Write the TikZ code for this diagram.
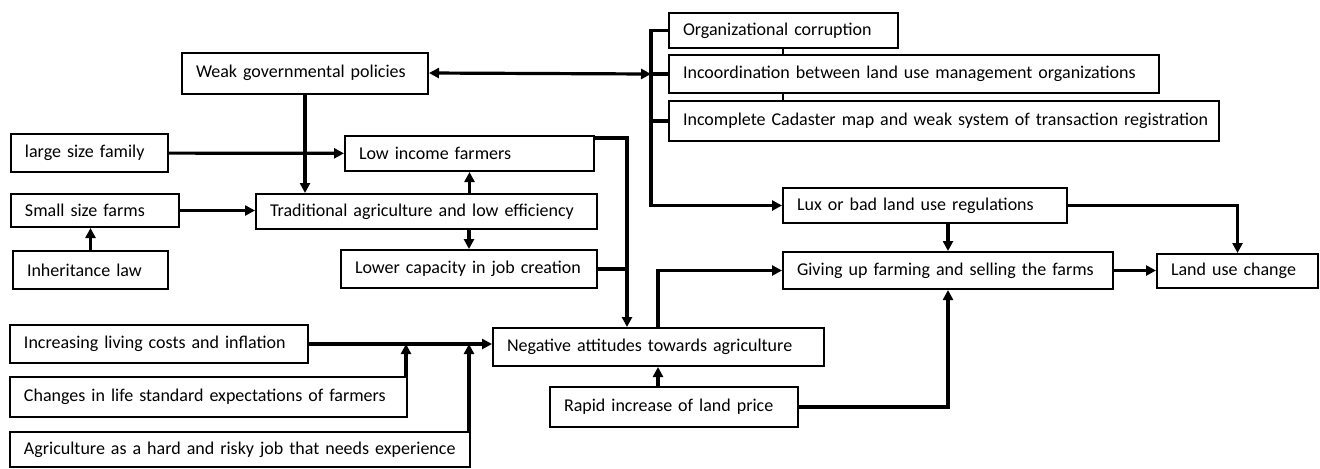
\documentclass[tikz,border=0pt]{standalone}
\usepackage{fontspec}
\setmainfont{Carlito}
\usetikzlibrary{arrows.meta,positioning,calc}

\begin{document}
\begin{tikzpicture}[x=0.5pt, y=-0.5pt,
    cbox/.style={rectangle, draw, line width=1pt, anchor=west, align=left,
                 inner xsep=7pt, inner ysep=0pt, minimum height=19pt,
                 font=\fontsize{9}{11}\selectfont},
    link/.style={line width=1.6pt},
    arr/.style={-{Triangle[length=5pt,width=5pt]}, line width=1.6pt},
    darr/.style={{Triangle[length=5pt,width=5pt]}-{Triangle[length=5pt,width=5pt]}, line width=1.6pt}
  ]
  \useasboundingbox (0,0) rectangle (1320,468);

  % causes on the left
  \node[cbox, text width=109pt, minimum height=20.5pt] (wgp) at (181,73) {Weak governmental policies};
  \node[cbox, text width=64.5pt] (lsf) at (10,153) {large size family};
  \node[cbox, text width=110.5pt, minimum height=17.5pt] (lif) at (344,153.5) {Low income farmers};
  \node[cbox, text width=70pt, minimum height=16.5pt] (ssf) at (10,210.5) {Small size farms};
  \node[cbox, text width=156.5pt, minimum height=17.5pt] (tra) at (255,211.5) {Traditional agriculture and low efficiency};
  \node[cbox, text width=63.5pt] (inh) at (12,270) {Inheritance law};
  \node[cbox, text width=114pt] (lcj) at (340,269) {Lower capacity in job creation};

  % organizational causes
  \node[cbox, text width=100.5pt, minimum height=17.5pt] (org) at (668,30.5) {Organizational corruption};
  \node[cbox, text width=231pt] (inc) at (668,74) {Incoordination between land use management organizations};
  \node[cbox, text width=267pt, inner xsep=4pt, minimum height=20pt] (cad) at (668,121) {\hspace*{3pt}Incomplete Cadaster map and weak system of transaction registration};
  \node[cbox, text width=128pt, minimum height=17.5pt] (lux) at (782,205.5) {Lux or bad land use regulations};
  \node[cbox, text width=151pt, minimum height=18.5pt] (giv) at (782,270.5) {Giving up farming and selling the farms};
  \node[cbox, text width=66.5pt, minimum height=17pt] (luc) at (1156,271) {Land use change};

  % lower part
  \node[cbox, text width=151.5pt] (neg) at (492,347) {Negative attitudes towards agriculture};
  \node[cbox, text width=135pt] (ilc) at (9,344) {Increasing living costs and inflation};
  \node[cbox, text width=184.5pt, minimum height=20pt] (chg) at (9,397) {Changes in life standard expectations of farmers};
  \node[cbox, text width=216pt, minimum height=17.5pt] (agr) at (9,449.5) {Agriculture as a hard and risky job that needs experience};
  \node[cbox, text width=110pt, minimum height=20pt] (rap) at (549,407) {Rapid increase of land price};

  \coordinate (bus) at (651,74);
  \coordinate (tk) at (783,0);
  \coordinate (jn) at (627,0);
  \coordinate (up) at (658,0);

  % connectors
  \draw[darr] (wgp.east) -- (bus);
  \draw[arr] (org.west) -- (org.west -| bus) |- (lux.west);
  \draw[link] (inc.west) -- (bus);
  \draw[link] (cad.west) -- (cad.west -| bus);
  \draw[line width=1pt] (org.south -| tk) -- (inc.north -| tk);
  \draw[line width=1pt] (inc.south -| tk) -- (cad.north -| tk);

  \draw[arr] (wgp) -- (wgp |- tra.north);
  \draw[arr] (lsf) -- (lif);
  \draw[arr] (ssf.east) -- (ssf.east -| tra.west);
  \draw[arr] (inh) -- (inh |- ssf.south);
  \draw[arr] (lif |- tra.north) -- (lif.south);
  \draw[arr] (lcj |- tra.south) -- (lcj.north);

  \draw[arr] ([yshift=-1.5pt]lif.north east) -| (jn |- neg.north);
  \draw[link] (lcj.east) -- (jn |- lcj.east);
  \draw[arr] (up |- neg.north) |- (giv.west);
  \draw[arr] (up |- rap.north) -- (up |- neg.south);
  \draw[arr] (rap.east) -| (giv.south);
  \draw[arr] (giv |- lux.south) -- (giv.north);
  \draw[arr] (lux.east) -| (luc.north);
  \draw[arr] (giv.east) -- (giv.east -| luc.west);

  \draw[arr] (ilc.east) -- (ilc.east -| neg.west);
  \draw[arr] ([xshift=-1pt]chg.north east) -- ([xshift=-1pt]chg.north east |- ilc.east);
  \draw[arr] ([xshift=-1pt]agr.north east) -- ([xshift=-1pt]agr.north east |- ilc.east);
\end{tikzpicture}
\end{document}
